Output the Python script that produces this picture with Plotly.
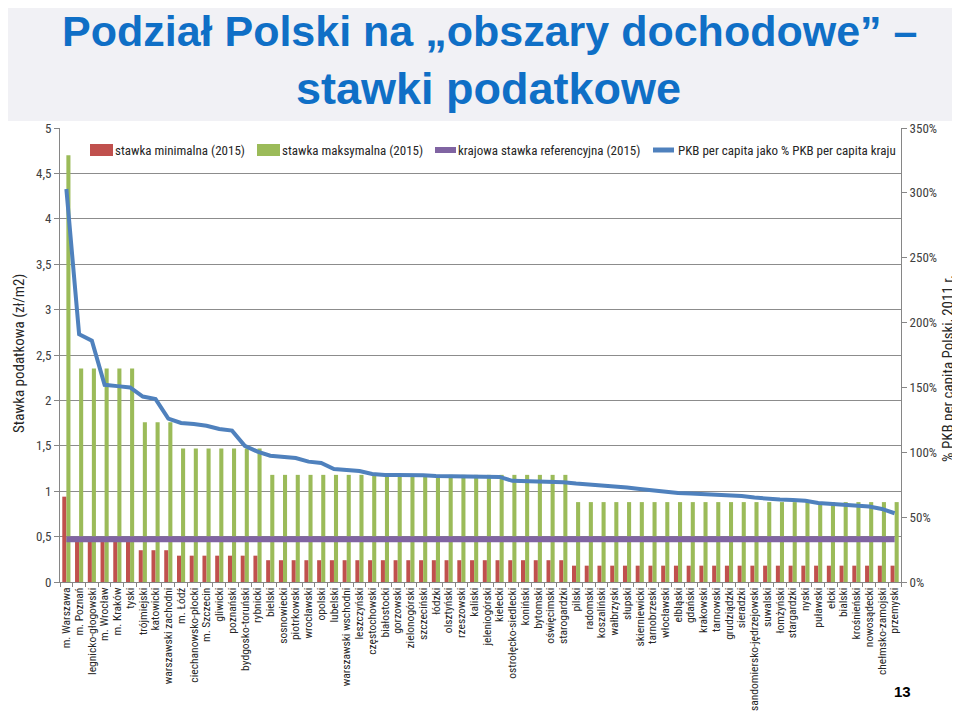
import plotly.graph_objects as go

categories = [
    "m. Warszawa", "m. Poznań", "legnicko-głogowski", "m. Wrocław", "m. Kraków", "tyski",
    "trójmiejski", "katowicki", "warszawski zachodni", "m. Łódź", "ciechanowsko-płocki",
    "m. Szczecin", "gliwicki", "poznański", "bydgosko-toruński", "rybnicki", "bielski",
    "sosnowiecki", "piotrkowski", "wrocławski", "opolski", "lubelski", "warszawski wschodni",
    "leszczyński", "częstochowski", "białostocki", "gorzowski", "zielonogórski", "szczeciński",
    "łódzki", "olsztyński", "rzeszowski", "kaliski", "jeleniogórski", "kielecki",
    "ostrołęcko-siedlecki", "koniński", "bytomski", "oświęcimski", "starogardzki", "pilski",
    "radomski", "koszaliński", "wałbrzyski", "słupski", "skierniewicki", "tarnobrzeski",
    "włocławski", "elbląski", "gdański", "krakowski", "tarnowski", "grudziądzki", "sieradzki",
    "sandomiersko-jędrzejowski", "suwalski", "łomżyński", "stargardzki", "nyski", "puławski",
    "ełcki", "bialski", "krośnieński", "nowosądecki", "chełmsko-zamojski", "przemyski",
]

stawka_min = [
    0.94, 0.47, 0.47, 0.47, 0.47, 0.47, 0.35, 0.35, 0.35, 0.29,
    0.29, 0.29, 0.29, 0.29, 0.29, 0.29, 0.24, 0.24, 0.24, 0.24,
    0.24, 0.24, 0.24, 0.24, 0.24, 0.24, 0.24, 0.24, 0.24, 0.24,
    0.24, 0.24, 0.24, 0.24, 0.24, 0.24, 0.24, 0.24, 0.24, 0.24,
    0.18, 0.18, 0.18, 0.18, 0.18, 0.18, 0.18, 0.18, 0.18, 0.18,
    0.18, 0.18, 0.18, 0.18, 0.18, 0.18, 0.18, 0.18, 0.18, 0.18,
    0.18, 0.18, 0.18, 0.18, 0.18, 0.18,
]

stawka_max = [
    4.70, 2.35, 2.35, 2.35, 2.35, 2.35, 1.76, 1.76, 1.76, 1.47,
    1.47, 1.47, 1.47, 1.47, 1.47, 1.47, 1.18, 1.18, 1.18, 1.18,
    1.18, 1.18, 1.18, 1.18, 1.18, 1.18, 1.18, 1.18, 1.18, 1.18,
    1.18, 1.18, 1.18, 1.18, 1.18, 1.18, 1.18, 1.18, 1.18, 1.18,
    0.88, 0.88, 0.88, 0.88, 0.88, 0.88, 0.88, 0.88, 0.88, 0.88,
    0.88, 0.88, 0.88, 0.88, 0.88, 0.88, 0.88, 0.88, 0.88, 0.88,
    0.88, 0.88, 0.88, 0.88, 0.88, 0.88,
]

stawka_ref = [
    0.47, 0.47, 0.47, 0.47, 0.47, 0.47, 0.47, 0.47, 0.47, 0.47,
    0.47, 0.47, 0.47, 0.47, 0.47, 0.47, 0.47, 0.47, 0.47, 0.47,
    0.47, 0.47, 0.47, 0.47, 0.47, 0.47, 0.47, 0.47, 0.47, 0.47,
    0.47, 0.47, 0.47, 0.47, 0.47, 0.47, 0.47, 0.47, 0.47, 0.47,
    0.47, 0.47, 0.47, 0.47, 0.47, 0.47, 0.47, 0.47, 0.47, 0.47,
    0.47, 0.47, 0.47, 0.47, 0.47, 0.47, 0.47, 0.47, 0.47, 0.47,
    0.47, 0.47, 0.47, 0.47, 0.47, 0.47,
]

pkb_pct = [
    303, 191, 186, 152, 151, 150, 143, 141, 126, 122.6,
    121.8, 120.5, 118, 116.7, 105, 100.5, 97.4, 96.6, 95.6, 92.8,
    91.8, 87.1, 86.4, 85.6, 83.3, 82.5, 82.5, 82.5, 82.3, 81.7,
    81.5, 81.3, 81.2, 81, 81, 78, 77.9, 77.5, 77.1, 76.9,
    75.9, 75.2, 74.8, 74.2, 72.9, 71.7, 70.6, 69.8, 68.6, 68.2,
    67.8, 67.6, 67.1, 66.3, 65.1, 64, 63.6, 63.2, 62.7, 60.9,
    60.1, 59.8, 59, 58.2, 56.3, 53,
]

left_ticks = [0, 0.5, 1, 1.5, 2, 2.5, 3, 3.5, 4, 4.5, 5]
left_ticktext = ["0", "0,5", "1", "1,5", "2", "2,5", "3", "3,5", "4", "4,5", "5"]
right_ticks = [0, 50, 100, 150, 200, 250, 300, 350]
right_ticktext = ["0%", "50%", "100%", "150%", "200%", "250%", "300%", "350%"]

series_names = ["stawka minimalna (2015)", "stawka maksymalna (2015)",
                "krajowa stawka referencyjna (2015)",
                "PKB per capita jako % PKB per capita kraju"]
series_colors = ["#C0504D", "#9BBB59", "#8064A2", "#4F81BD"]

FONT = "Roboto Condensed, Liberation Sans Narrow, Roboto, sans-serif"
TITLE_FONT = "Liberation Sans, Arial, sans-serif"
TXT = "#404040"

fig = go.Figure()
fig.add_trace(go.Bar(x=categories, y=stawka_min, name=series_names[0],
                     marker=dict(color=series_colors[0], line=dict(width=0))))
fig.add_trace(go.Bar(x=categories, y=stawka_max, name=series_names[1],
                     marker=dict(color=series_colors[1], line=dict(width=0))))
fig.add_trace(go.Scatter(x=categories, y=stawka_ref, mode="lines", name=series_names[2],
                         line=dict(color=series_colors[2], width=6)))
fig.add_trace(go.Scatter(x=categories, y=pkb_pct, mode="lines", yaxis="y2", name=series_names[3],
                         line=dict(color=series_colors[3], width=4)))

L, R, T, B = 52, 67, 120, 141
W, H = 960, 715
pw, ph = W - L - R, H - T - B

def px(x):
    return (x - L) / pw

def py(y):
    return (H - B - y) / ph

shapes = [
    dict(type="rect", xref="paper", yref="paper", x0=px(0), x1=px(W), y0=py(113), y1=py(0),
         fillcolor="#F1F1F5", line=dict(width=0), layer="below"),
    dict(type="line", xref="paper", yref="paper", x0=px(958), x1=px(958), y0=py(H), y1=py(113),
         line=dict(color="#D0D0D0", width=1)),
]
annotations = [
    dict(text="<b>Podział Polski na „obszary dochodowe” –</b>", xref="paper", yref="paper",
         x=px(481), y=py(23), xanchor="center", yanchor="middle", showarrow=False,
         font=dict(family=TITLE_FONT, size=43, color="#0F6FC6")),
    dict(text="<b>stawki podatkowe</b>", xref="paper", yref="paper",
         x=px(480), y=py(80), xanchor="center", yanchor="middle", showarrow=False,
         font=dict(family=TITLE_FONT, size=45, color="#0F6FC6")),
    dict(text="<b>13</b>", xref="paper", yref="paper",
         x=px(894), y=py(683), xanchor="center", yanchor="middle", showarrow=False,
         font=dict(family="Liberation Sans, sans-serif", size=15, color="#000000")),
    dict(text="Stawka podatkowa (zł/m2)", xref="paper", yref="paper", textangle=-90,
         x=px(11), y=py(346), xanchor="center", yanchor="middle", showarrow=False,
         font=dict(family=FONT, size=15, color="#262626")),
    dict(text="% PKB per capita Polski, 2011 r.", xref="paper", yref="paper", textangle=-90,
         x=px(940), y=py(360), xanchor="center", yanchor="middle", showarrow=False,
         font=dict(family=FONT, size=15, color="#262626")),
]

# manual legend (Excel-style, single row at the top of the plot area)
leg_sym_x = [82, 249, 425, 643]
leg_txt_x = [107, 274, 450, 670]
leg_y = 142
for i in range(4):
    if i < 2:
        shapes.append(dict(type="rect", xref="paper", yref="paper",
                           x0=px(leg_sym_x[i]), x1=px(leg_sym_x[i] + 23),
                           y0=py(leg_y + 6), y1=py(leg_y - 6),
                           fillcolor=series_colors[i], line=dict(width=0)))
    else:
        shapes.append(dict(type="line", xref="paper", yref="paper",
                           x0=px(leg_sym_x[i] + 2), x1=px(leg_sym_x[i] + 23),
                           y0=py(leg_y), y1=py(leg_y),
                           line=dict(color=series_colors[i], width=6 if i == 2 else 5)))
    annotations.append(dict(text=series_names[i], xref="paper", yref="paper",
                            x=px(leg_txt_x[i] - 2), y=py(leg_y), xanchor="left", yanchor="middle",
                            showarrow=False, font=dict(family=FONT, size=13, color="#262626")))

fig.update_layout(
    width=W, height=H,
    margin=dict(l=L, r=R, t=T, b=B, autoexpand=False),
    paper_bgcolor="white", plot_bgcolor="white",
    barmode="group", bargap=0.36, bargroupgap=0.0,
    font=dict(family=FONT, color=TXT, size=12),
    showlegend=False,
    xaxis=dict(type="category", tickmode="array", tickvals=categories, ticktext=categories,
               tickangle=-90, tickfont=dict(size=11.5, color="#262626"),
               showline=True, linecolor="#868686", linewidth=1,
               ticks="outside", tickson="boundaries", ticklen=4, tickcolor="#868686",
               showgrid=False, automargin=False, range=[-0.5, 65.5]),
    yaxis=dict(range=[0, 5], tickvals=left_ticks, ticktext=left_ticktext,
               showgrid=True, gridcolor="#8C8C8C", gridwidth=1,
               showline=True, linecolor="#868686", ticks="outside", ticklen=5,
               tickcolor="#868686", tickfont=dict(size=13, color=TXT), zeroline=False,
               automargin=False),
    yaxis2=dict(overlaying="y", side="right", range=[0, 350], tickvals=right_ticks,
                ticktext=right_ticktext, showgrid=False, showline=True, linecolor="#868686",
                ticks="outside", ticklen=5, tickcolor="#868686", zeroline=False,
                tickfont=dict(size=13, color=TXT), automargin=False),
    shapes=shapes,
    annotations=annotations,
)

fig.write_html("out.html")
